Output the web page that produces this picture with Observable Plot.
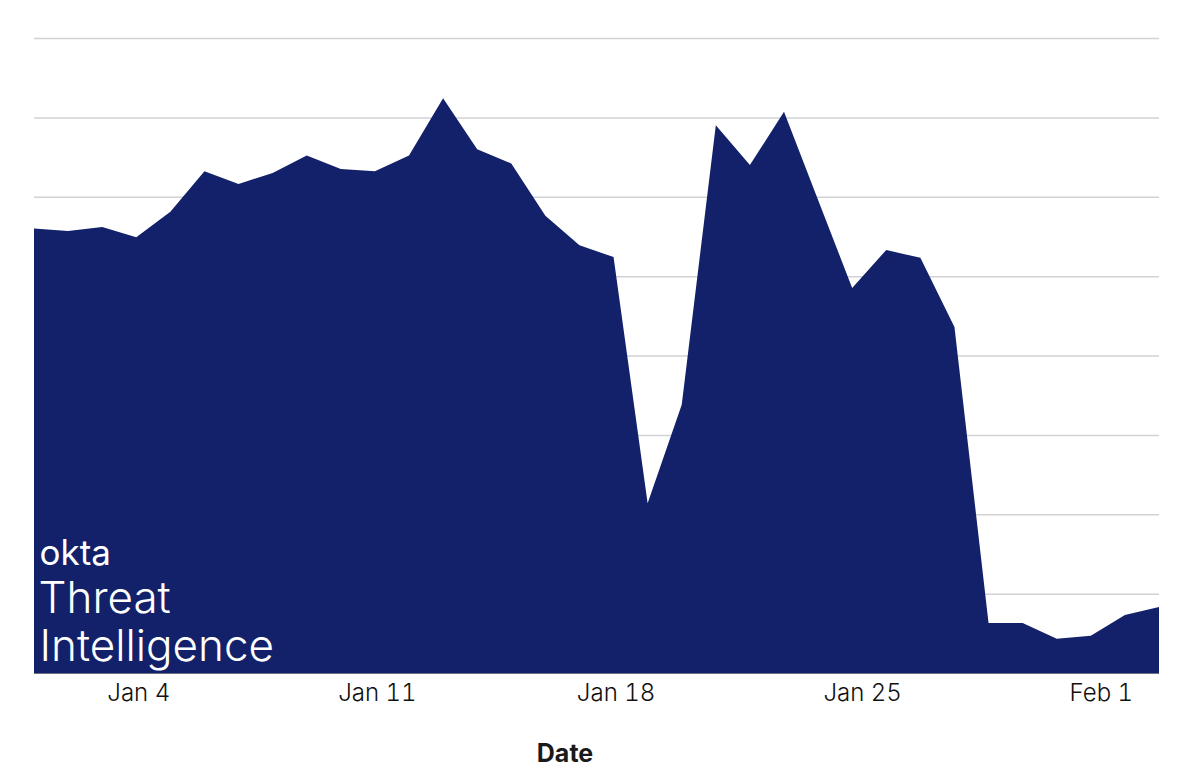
<!DOCTYPE html>
<html><head><meta charset="utf-8">
<script src="https://cdn.jsdelivr.net/npm/d3@7"></script>
<script src="https://cdn.jsdelivr.net/npm/@observablehq/plot@0.6"></script>
<style>html,body{margin:0;padding:0;background:#fff}svg{display:block}</style>
</head><body><div id="chart"></div>
<script>
const startDate = "2024-01-01";
const values = [560,557,562,549,581,632,616,630,652,635,632,652,724,660,642,576,539,524,214,338,690,640,707,596,485,533,523,436,63,63,43,47,73,83];
const gridValues = [100,200,300,400,500,600,700,800];
const ticksLeft = ["2024-01-04","2024-01-11","2024-01-18"].map(d=>new Date(d));
const ticksRight = ["2024-01-25","2024-02-01"].map(d=>new Date(d));
const start = new Date(startDate);
const rows = values.map((v,i)=>({date:d3.utcDay.offset(start,i),value:v}));
const fmt = d3.utcFormat("%b %-d");
const sans = "Inter, 'Liberation Sans', sans-serif";
const chart = Plot.plot({
  width:1200,height:769,
  marginLeft:34,marginRight:41,marginTop:38,marginBottom:96,
  style:{background:"#fff",fontFamily:sans},
  x:{type:"utc",domain:[rows[0].date,rows[rows.length-1].date]},
  y:{domain:[0,800]},
  marks:[
    Plot.ruleY(gridValues,{stroke:"#d2d2d6",strokeWidth:1.5}),
    Plot.areaY(rows,{x:"date",y:"value",fill:"#13216a",curve:"linear"}),
    Plot.ruleY([0],{stroke:"#6b6f80",strokeWidth:1}),
    Plot.axisY({ticks:[],label:null,tickSize:0}),
    Plot.axisX({ticks:ticksLeft,tickFormat:fmt,tickSize:0,tickPadding:10,fontSize:24,fontWeight:300,fill:"#111",dx:2,label:null}),
    Plot.axisX({ticks:ticksRight,tickFormat:fmt,tickSize:0,tickPadding:10,fontSize:24,fontWeight:300,fill:"#111",dx:10,label:null}),
    Plot.text(["Date"],{frameAnchor:"bottom",dy:88,dx:-32,fontSize:25,fontWeight:700,fill:"#1a1a1a"}),
    Plot.text(["okta"],{frameAnchor:"bottom-left",dx:5,dy:-109,fontSize:35,fontWeight:400,fill:"#fff",lineAnchor:"bottom"}),
    Plot.text(["Threat"],{frameAnchor:"bottom-left",dx:4,dy:-61,fontSize:44,fontWeight:300,fill:"#fff",lineAnchor:"bottom"}),
    Plot.text(["Intelligence"],{frameAnchor:"bottom-left",dx:5,dy:-13,fontSize:44,fontWeight:300,fill:"#fff",lineAnchor:"bottom"})
  ]
});
document.getElementById("chart").append(chart);
</script></body></html>
